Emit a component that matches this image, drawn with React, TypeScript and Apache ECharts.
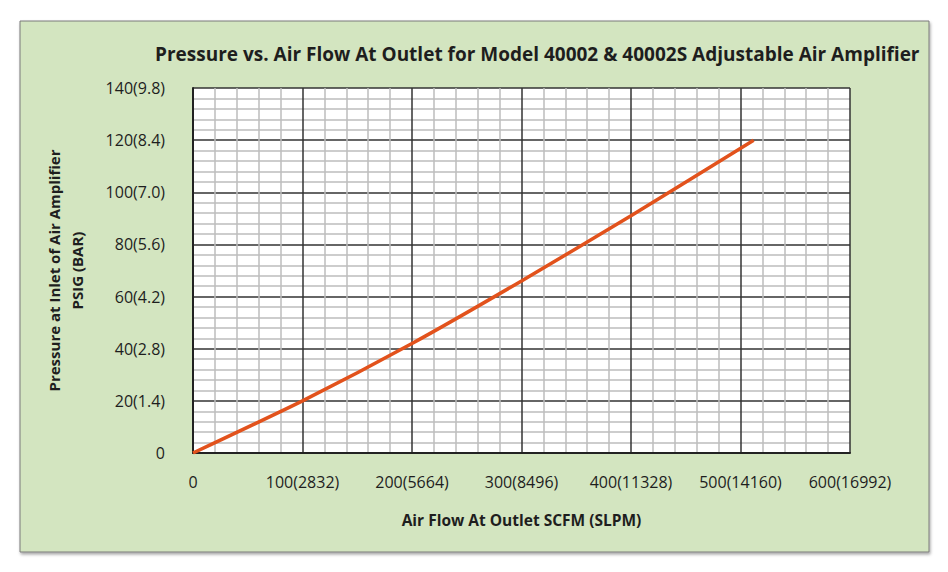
import React, { useEffect, useRef } from "react";
import * as echarts from "echarts";

const flowScfm = [0, 100, 200, 300, 400, 512];
const pressurePsig = [0, 20, 42, 66, 91, 120];
const xTickValues = [0, 100, 200, 300, 400, 500, 600];
const xTickLabels = ["0", "100(2832)", "200(5664)", "300(8496)", "400(11328)", "500(14160)", "600(16992)"];
const yTickValues = [0, 20, 40, 60, 80, 100, 120, 140];
const yTickLabels = ["0", "20(1.4)", "40(2.8)", "60(4.2)", "80(5.6)", "100(7.0)", "120(8.4)", "140(9.8)"];

const FONT = "'Open Sans', sans-serif";
const TXT = "#1e1e1e";

export default function App() {
  const ref = useRef<HTMLDivElement>(null);
  useEffect(() => {
    document.body.style.margin = "0";
    const chart = echarts.init(ref.current!, null, { renderer: "svg" });
    const data = flowScfm.map((x, i) => [x, pressurePsig[i]]);
    chart.setOption({
      animation: false,
      backgroundColor: "#ffffff",
      graphic: [
        {
          type: "rect",
          z: -10,
          shape: { x: 20, y: 21, width: 909, height: 531 },
          style: {
            fill: "#d3e5c0",
            stroke: "#7a7a7a",
            lineWidth: 1,
            shadowBlur: 3,
            shadowOffsetX: 1,
            shadowOffsetY: 2,
            shadowColor: "rgba(0,0,0,0.35)",
          },
        },
      ],
      title: {
        text: "Pressure vs. Air Flow At Outlet for Model 40002 & 40002S Adjustable Air Amplifier",
        left: 150,
        top: 39,
        textStyle: { fontFamily: FONT, fontSize: 19, fontWeight: "bold", color: TXT },
      },
      grid: { left: 193, right: 98, top: 88, bottom: 119, backgroundColor: "#ffffff", show: true, borderWidth: 0 },
      xAxis: {
        type: "value",
        min: 0,
        max: 600,
        interval: 100,
        name: "Air Flow At Outlet SCFM (SLPM)",
        nameLocation: "middle",
        nameGap: 59,
        nameTextStyle: { fontFamily: FONT, fontSize: 15.5, fontWeight: "bold", color: TXT },
        axisLine: { show: true, onZero: false, lineStyle: { color: "#222", width: 2 } },
        axisTick: { show: false },
        axisLabel: {
          margin: 21,
          fontFamily: FONT,
          fontSize: 16,
          color: TXT,
          formatter: (v: number) => {
            const i = xTickValues.indexOf(v);
            return i >= 0 ? xTickLabels[i] : "";
          },
        },
        splitLine: { show: true, lineStyle: { color: "#333", width: 1.5 } },
        minorTick: { show: false, splitNumber: 5 },
        minorSplitLine: { show: true, lineStyle: { color: "#bdbdbd", width: 1.5 } },
      },
      yAxis: {
        type: "value",
        min: 0,
        max: 140,
        interval: 20,
        name: "Pressure at Inlet of Air Amplifier\nPSIG (BAR)",
        nameLocation: "middle",
        nameRotate: 90,
        nameGap: 105,
        nameTextStyle: { fontFamily: FONT, fontSize: 15, fontWeight: "bold", color: TXT, lineHeight: 23 },
        axisLine: { show: true, onZero: false, lineStyle: { color: "#222", width: 2 } },
        axisTick: { show: false },
        axisLabel: {
          margin: 28,
          fontFamily: FONT,
          fontSize: 16,
          color: TXT,
          formatter: (v: number) => {
            const i = yTickValues.indexOf(v);
            return i >= 0 ? yTickLabels[i] : "";
          },
        },
        splitLine: { show: true, lineStyle: { color: "#333", width: 1.5 } },
        minorTick: { show: false, splitNumber: 5 },
        minorSplitLine: { show: true, lineStyle: { color: "#bdbdbd", width: 1.5 } },
      },
      series: [
        {
          type: "line",
          data,
          symbol: "none",
          smooth: 0.2,
          lineStyle: { color: "#e2521c", width: 3.5 },
          z: 5,
        },
      ],
    });
    return () => chart.dispose();
  }, []);
  return <div ref={ref} style={{ width: 948, height: 572, position: "absolute", left: 0, top: 0 }} />;
}
